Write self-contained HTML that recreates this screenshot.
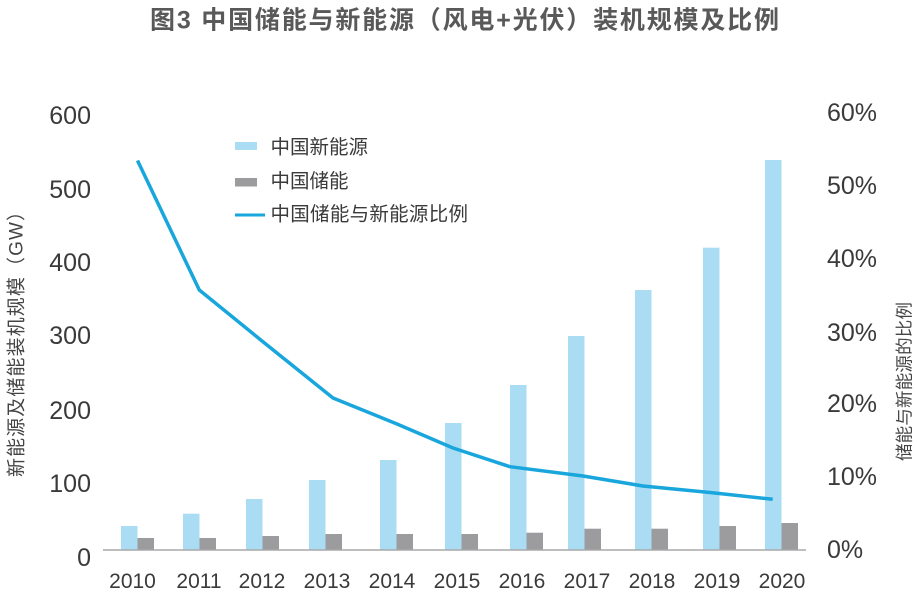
<!DOCTYPE html>
<html><head><meta charset="utf-8"><style>
html,body{margin:0;padding:0;background:#fff;}
svg{display:block;}
text{font-family:"Liberation Sans","Noto Sans CJK SC",sans-serif;}
</style></head><body>
<svg width="917" height="595" viewBox="0 0 917 595" xmlns="http://www.w3.org/2000/svg">
<rect width="917" height="595" fill="#fff"/>
<text x="150" y="28.5" font-size="25" font-weight="bold" fill="#595959" textLength="629" lengthAdjust="spacing" style="font-family:'Liberation Sans','Noto Sans CJK SC',sans-serif">图3 中国储能与新能源（风电+光伏）装机规模及比例</text>

<!-- left tick labels -->
<g font-size="25" fill="#3a3a3a" text-anchor="end">
<text x="91" y="124">600</text>
<text x="91" y="198">500</text>
<text x="91" y="271">400</text>
<text x="91" y="344">300</text>
<text x="91" y="419">200</text>
<text x="91" y="492">100</text>
<text x="91" y="566">0</text>
</g>
<!-- right tick labels -->
<g font-size="25" fill="#3a3a3a">
<text x="827" y="121">60%</text>
<text x="827" y="194">50%</text>
<text x="827" y="267">40%</text>
<text x="827" y="341">30%</text>
<text x="827" y="412">20%</text>
<text x="827" y="485">10%</text>
<text x="827" y="558">0%</text>
</g>

<!-- axis titles -->
<text transform="translate(22.5,477) rotate(-90)" font-size="19" fill="#444" textLength="275" lengthAdjust="spacing">新能源及储能装机规模（GW）</text>
<text transform="translate(910.5,461) rotate(-90)" font-size="17.5" fill="#444" textLength="159" lengthAdjust="spacing">储能与新能源的比例</text>

<!-- blue bars -->
<g fill="#aadcf4">
<rect x="121" y="526" width="16.5" height="24"/>
<rect x="183" y="513.7" width="16.5" height="36.3"/>
<rect x="246" y="499" width="16.5" height="51"/>
<rect x="309" y="480" width="16.5" height="70"/>
<rect x="380" y="460" width="16.5" height="90"/>
<rect x="445" y="423" width="16.5" height="127"/>
<rect x="510" y="385" width="16.5" height="165"/>
<rect x="568" y="336" width="16.5" height="214"/>
<rect x="635" y="290" width="16.5" height="260"/>
<rect x="703" y="247.7" width="16.5" height="302.3"/>
<rect x="765" y="160" width="16.5" height="390"/>
</g>
<!-- gray bars -->
<g fill="#9c9c9e">
<rect x="137.5" y="538" width="16.5" height="12"/>
<rect x="199.5" y="538" width="16.5" height="12"/>
<rect x="262.5" y="536" width="16.5" height="14"/>
<rect x="325.5" y="534" width="16.5" height="16"/>
<rect x="396.5" y="534" width="16.5" height="16"/>
<rect x="461.5" y="534" width="16.5" height="16"/>
<rect x="526.5" y="532.7" width="16.5" height="17.3"/>
<rect x="584.5" y="528.7" width="16.5" height="21.3"/>
<rect x="651.5" y="528.7" width="16.5" height="21.3"/>
<rect x="719.5" y="526" width="16.5" height="24"/>
<rect x="781.5" y="523" width="16.5" height="27"/>
</g>

<!-- axis line -->
<line x1="103" y1="550" x2="806" y2="550" stroke="#a8a8a8" stroke-width="1.5"/>

<!-- ratio line -->
<polyline points="137.5,160.5 199.3,290 262,341 333,398 397,424 453,448 510,466.7 583,476 643,486 710,492.5 772.7,499.3" fill="none" stroke="#19a6dc" stroke-width="3.5" stroke-linejoin="round" stroke-linecap="butt"/>

<!-- x labels -->
<g font-size="21" fill="#3a3a3a" text-anchor="middle">
<text x="132.5" y="588">2010</text>
<text x="199" y="588">2011</text>
<text x="262" y="588">2012</text>
<text x="327" y="588">2013</text>
<text x="392" y="588">2014</text>
<text x="457" y="588">2015</text>
<text x="522" y="588">2016</text>
<text x="587" y="588">2017</text>
<text x="652" y="588">2018</text>
<text x="717" y="588">2019</text>
<text x="782" y="588">2020</text>
</g>

<!-- legend -->
<rect x="235" y="142" width="22" height="8" fill="#aadcf4"/>
<rect x="235" y="178" width="22" height="8.5" fill="#9c9c9e"/>
<line x1="235" y1="215" x2="265" y2="215" stroke="#19a6dc" stroke-width="3"/>
<g font-size="19.5" fill="#3a3a3a">
<text x="270.5" y="153.6" textLength="97.5" lengthAdjust="spacing">中国新能源</text>
<text x="270.5" y="187.6" textLength="78" lengthAdjust="spacing">中国储能</text>
<text x="270.5" y="220.3" textLength="197.5" lengthAdjust="spacing">中国储能与新能源比例</text>
</g>
</svg>
</body></html>
